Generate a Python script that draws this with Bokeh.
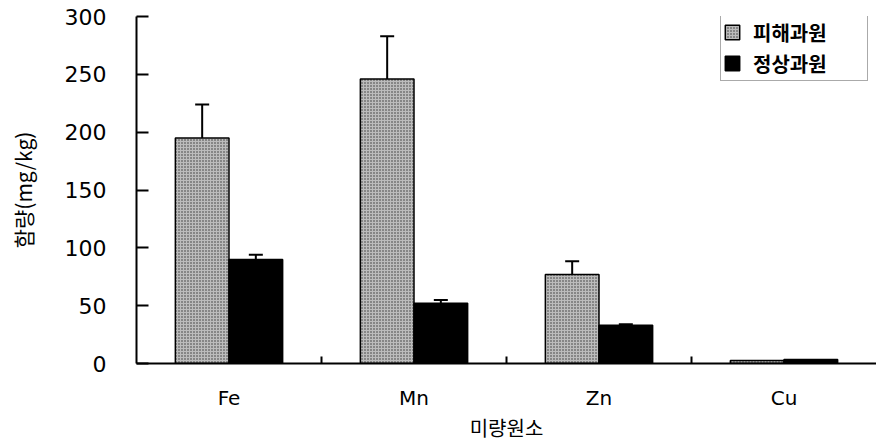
from bokeh.plotting import figure
from bokeh.models import (Range1d, LinearAxis, FixedTicker, Legend, LegendItem,
                          Whisker, TeeHead, ColumnDataSource)
from bokeh.embed import file_html
from bokeh.resources import INLINE

# ---- data ----
categories = ["Fe", "Mn", "Zn", "Cu"]
damaged = [195, 246, 77, 2.5]          # 피해과원
damaged_err = [29, 37, 11.5, 0]
normal = [90, 52, 33, 3.5]             # 정상과원
normal_err = [4, 3, 1, 0]
y_ticks = [0, 50, 100, 150, 200, 250, 300]

series_names = ["피해과원", "정상과원"]

n = len(categories)
centers = [i + 0.5 for i in range(n)]
bar_w = 0.29
off = 0.145

src_d = ColumnDataSource(dict(x=[c - off for c in centers], top=damaged))
src_n = ColumnDataSource(dict(x=[c + off for c in centers], top=normal))

def err_source(xs, vals, errs):
    keep = [i for i, e in enumerate(errs) if e > 0]
    return ColumnDataSource(dict(
        x=[xs[i] for i in keep],
        upper=[vals[i] + errs[i] for i in keep],
        lower=[vals[i] - errs[i] for i in keep],
    ))

p = figure(width=876, height=444, x_range=Range1d(0, n), y_range=Range1d(0, 300),
           output_backend="svg", toolbar_location=None,
           x_axis_location=None, y_axis_location=None,
           min_border_left=136, min_border_right=0, min_border_top=16,
           min_border_bottom=81)
p.outline_line_color = None
p.xgrid.visible = False
p.ygrid.visible = False
p.background_fill_color = "white"
p.border_fill_color = "white"

r_d = p.vbar(x="x", top="top", width=bar_w, bottom=0, source=src_d,
             fill_color="#bcbcbc", line_color="black", line_width=1.5,
             hatch_pattern="dot", hatch_color="#333333", hatch_scale=3, hatch_weight=1)
r_n = p.vbar(x="x", top="top", width=bar_w, bottom=0, source=src_n,
             fill_color="black", line_color="black", line_width=1.5)

for xs, vals, errs in ((src_d.data["x"], damaged, damaged_err),
                       (src_n.data["x"], normal, normal_err)):
    es = err_source(list(xs), vals, errs)
    w = Whisker(source=es, base="x", upper="upper", lower="lower",
                line_color="black", line_width=2,
                upper_head=TeeHead(size=14, line_width=2, line_color="black"),
                lower_head=TeeHead(size=14, line_width=2, line_color="black"))
    p.add_layout(w)

# y axis
yax = LinearAxis(ticker=FixedTicker(ticks=y_ticks, minor_ticks=[]),
                 axis_label="함량(mg/kg)")
yax.axis_line_width = 2
yax.major_tick_in = 12
yax.major_tick_out = 0
yax.major_tick_line_width = 2
yax.minor_tick_line_color = None
yax.major_label_standoff = 30
yax.major_label_text_font = "DejaVu Sans"
yax.major_label_text_font_size = "22px"
yax.major_label_text_color = "black"
yax.axis_label_text_font = "Noto Sans CJK KR"
yax.axis_label_text_font_size = "21px"
yax.axis_label_text_font_style = "normal"
yax.axis_label_text_color = "black"
yax.axis_label_standoff = 24
p.add_layout(yax, "left")

# x axis: labels at category centres, small ticks at category boundaries
xax = LinearAxis(ticker=FixedTicker(ticks=centers, minor_ticks=list(range(1, n))),
                 axis_label="미량원소")
xax.major_label_overrides = {c: lab for c, lab in zip(centers, categories)}
xax.axis_line_width = 2
xax.major_tick_line_color = None
xax.major_tick_in = 0
xax.major_tick_out = 0
xax.minor_tick_in = 7
xax.minor_tick_out = 0
xax.minor_tick_line_width = 2
xax.major_label_standoff = 22
xax.major_label_text_font = "DejaVu Sans"
xax.major_label_text_font_size = "20px"
xax.major_label_text_color = "black"
xax.axis_label_text_font = "Noto Sans CJK KR"
xax.axis_label_text_font_size = "20px"
xax.axis_label_text_font_style = "normal"
xax.axis_label_text_color = "black"
xax.axis_label_standoff = 0
p.add_layout(xax, "below")

legend = Legend(items=[LegendItem(label=series_names[0], renderers=[r_d]),
                       LegendItem(label=series_names[1], renderers=[r_n])],
                location=(584, 282), margin=0,
                glyph_width=18, glyph_height=18, label_standoff=12,
                padding=2, spacing=1, label_height=30, label_width=112,
                label_text_font="Noto Sans CJK KR", label_text_font_size="20px",
                label_text_font_style="bold",
                label_text_color="black",
                border_line_color="#555555", border_line_width=1,
                background_fill_color="white", background_fill_alpha=1)
p.add_layout(legend, "center")

open("out.html", "w").write(file_html(p, INLINE))
